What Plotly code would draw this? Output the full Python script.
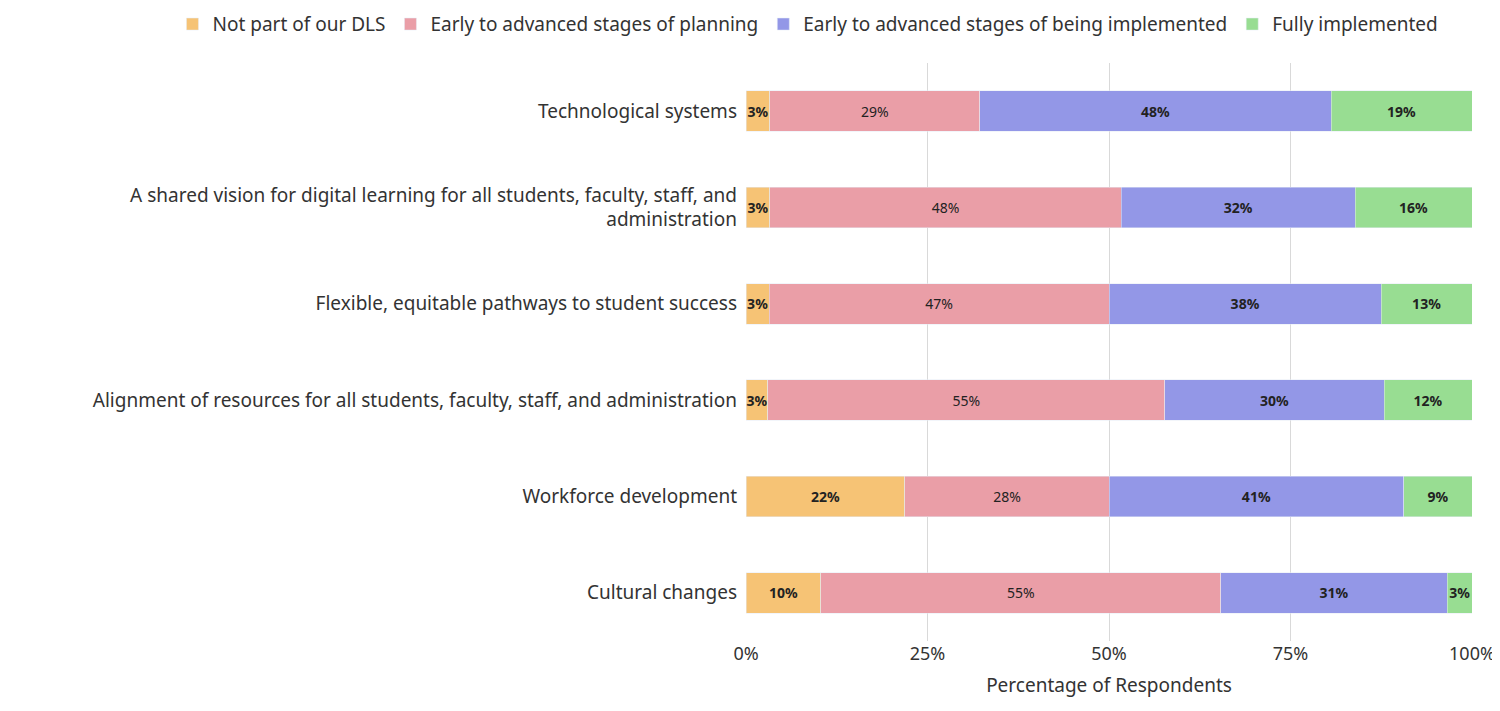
import plotly.graph_objects as go

categories = ["Technological systems",
              "A shared vision for digital learning for all students, faculty, staff, and<br>administration",
              "Flexible, equitable pathways to student success",
              "Alignment of resources for all students, faculty, staff, and administration",
              "Workforce development",
              "Cultural changes"]
not_part = [3.3, 3.3, 3.2, 3.0, 21.9, 10.3]
planning = [28.9, 48.4, 46.8, 54.7, 28.1, 55.1]
implementing = [48.4, 32.2, 37.5, 30.2, 40.6, 31.2]
full = [19.4, 16.1, 12.5, 12.1, 9.4, 3.4]
series_names = ["Not part of our DLS", "Early to advanced stages of planning",
                "Early to advanced stages of being implemented", "Fully implemented"]
colors = ["#F6C375", "#EA9EA7", "#9397E7", "#98DD92"]
tick_vals = [0, 25, 50, 75, 100]
tick_text = ["0%", "25%", "50%", "75%", "100%"]

font = "Noto Sans"
fig = go.Figure()
for name, vals, c, bold in zip(series_names, [not_part, planning, implementing, full], colors,
                               [True, False, True, True]):
    fig.add_trace(go.Bar(
        y=categories, x=vals, name=name, orientation="h", marker_color=c,
        texttemplate="<b>%{x:.0f}%</b>" if bold else "%{x:.0f}%",
        textposition="inside", insidetextanchor="middle", constraintext="none",
        textfont=dict(size=14, color="#222222", family=font),
        textangle=0))

fig.update_layout(
    barmode="stack", bargap=0.58, width=1500, height=711,
    plot_bgcolor="white", paper_bgcolor="white",
    margin=dict(l=738, r=36, t=55, b=78, autoexpand=False),
    font=dict(family=font, size=19, color="#333333"),
    legend=dict(orientation="h", x=-0.79, xanchor="left", y=1.1, yanchor="top",
                font=dict(size=19), traceorder="normal", itemwidth=30,
                tracegroupgap=0),
    uniformtext=dict(mode=False),
)
fig.update_yaxes(autorange="reversed", ticks="", ticklabelstandoff=8, automargin=False)
fig.update_xaxes(range=[0, 100], tickvals=tick_vals, ticktext=tick_text,
                 showgrid=True, gridcolor="#D9D9D9", gridwidth=1, zeroline=False,
                 tickfont=dict(size=18), automargin=False,
                 title=dict(text="Percentage of Respondents", font=dict(size=19), standoff=14))
fig.write_html("out.html")
